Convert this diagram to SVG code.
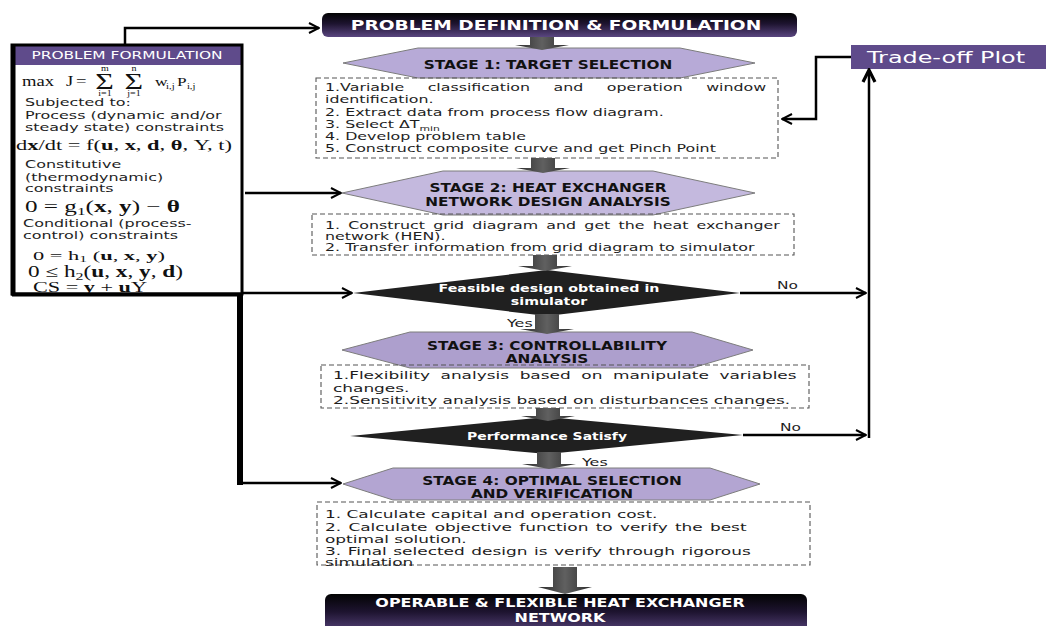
<svg xmlns="http://www.w3.org/2000/svg" width="1046" height="626" viewBox="0 0 1046 626">
<defs>
<style>
.t{font-family:"DejaVu Sans",Verdana,sans-serif;font-size:11px;fill:#1e1e1e}
.b{font-family:"DejaVu Sans",Verdana,sans-serif;font-weight:bold}
.w{fill:#fff}
.m{font-family:"Liberation Serif","DejaVu Serif",serif;fill:#111}
.stage{stroke:#7d7d7d;stroke-width:1}
.dash{fill:none;stroke:#555;stroke-width:1.1;stroke-dasharray:5 3}
.conn{fill:none;stroke:#000;stroke-width:2.5}
.blk{fill:url(#gArr)}
.dia{fill:#202020}
</style>
<linearGradient id="gDark" x1="0" y1="0" x2="0" y2="1"><stop offset="0" stop-color="#030303"/><stop offset="0.45" stop-color="#1e1430"/><stop offset="1" stop-color="#5a4680"/></linearGradient>
<linearGradient id="gArr" x1="0" y1="0" x2="1" y2="0"><stop offset="0" stop-color="#2b2b2b"/><stop offset="0.5" stop-color="#606060"/><stop offset="1" stop-color="#2b2b2b"/></linearGradient>
<marker id="ah" viewBox="0 0 12 12" refX="11" refY="6" markerWidth="12" markerHeight="12" markerUnits="userSpaceOnUse" orient="auto"><path d="M1,1 L11,6 L1,11" fill="none" stroke="#000" stroke-width="2"/></marker>
<marker id="ahT" viewBox="0 0 16 16" refX="14" refY="8" markerWidth="16" markerHeight="16" markerUnits="userSpaceOnUse" orient="auto"><path d="M2,2 L14,8 L2,14" fill="none" stroke="#000" stroke-width="3.2"/></marker>
</defs>
<rect width="1046" height="626" fill="#fff"/>

<g id="panel">
<rect x="12" y="45" width="230" height="249" fill="#fff"/>
<rect x="12" y="45" width="231" height="20" fill="#5f4b8b"/>
<text class="t w" font-size="11.5" transform="translate(127,59) scale(1.4,1)" text-anchor="middle">PROBLEM FORMULATION</text>
<g class="m" transform="translate(22,0) scale(1.33,1)">
<text font-size="14"><tspan x="0" y="86">max</tspan><tspan x="33" y="86">J</tspan><tspan x="40.6" y="86">=</tspan></text>
<text font-size="24"><tspan x="55" y="89">Σ</tspan><tspan x="77" y="89">Σ</tspan></text>
<text font-size="7.5" text-anchor="middle"><tspan x="62.4" y="71">m</tspan><tspan x="62.4" y="96">i=1</tspan><tspan x="84.2" y="71">n</tspan><tspan x="84.2" y="96">j=1</tspan></text>
<text font-size="13"><tspan x="100" y="86">w</tspan><tspan x="116.5" y="86">P</tspan></text>
<text font-size="8"><tspan x="108.3" y="89">i,j</tspan><tspan x="124" y="89">i,j</tspan></text>
</g>
<text class="t" transform="translate(25,106) scale(1.45,1)">Subjected to:</text>
<text class="t" transform="translate(25,119) scale(1.45,1)">Process (dynamic and/or</text>
<text class="t" transform="translate(25,131) scale(1.45,1)">steady state) constraints</text>
<text class="m" x="16" y="150" font-size="14" textLength="216" lengthAdjust="spacingAndGlyphs">d<tspan font-weight="bold">x</tspan>/dt = f(<tspan font-weight="bold">u</tspan>, <tspan font-weight="bold">x</tspan>, <tspan font-weight="bold">d</tspan>, <tspan font-weight="bold">θ</tspan>, Y, t)</text>
<text class="t" transform="translate(25,168) scale(1.45,1)">Constitutive</text>
<text class="t" transform="translate(25,181) scale(1.45,1)">(thermodynamic)</text>
<text class="t" transform="translate(25,192) scale(1.45,1)">constraints</text>
<text class="m" x="25" y="212" font-size="16" textLength="155" lengthAdjust="spacingAndGlyphs">0 = g<tspan font-size="11" dy="3">1</tspan><tspan dy="-3">(</tspan><tspan font-weight="bold">x</tspan>, <tspan font-weight="bold">y</tspan>) − <tspan font-weight="bold">θ</tspan></text>
<text class="t" transform="translate(23,227) scale(1.45,1)">Conditional (process-</text>
<text class="t" transform="translate(23,239) scale(1.45,1)">control) constraints</text>
<text class="m" x="33" y="260" font-size="13" textLength="132" lengthAdjust="spacingAndGlyphs">0 = h<tspan font-size="9" dy="2">1</tspan><tspan dy="-2"> (</tspan><tspan font-weight="bold">u</tspan>, <tspan font-weight="bold">x</tspan>, <tspan font-weight="bold">y</tspan>)</text>
<text class="m" x="28" y="277" font-size="16" textLength="155" lengthAdjust="spacingAndGlyphs">0 ≤ h<tspan font-size="11" dy="3">2</tspan><tspan dy="-3">(</tspan><tspan font-weight="bold">u</tspan>, <tspan font-weight="bold">x</tspan>, <tspan font-weight="bold">y</tspan>, <tspan font-weight="bold">d</tspan>)</text>
<text class="m" x="33" y="292" font-size="14" textLength="114" lengthAdjust="spacingAndGlyphs">CS = <tspan font-weight="bold">y</tspan> + <tspan font-weight="bold">u</tspan>Y</text>
<rect x="12" y="45" width="230" height="249" fill="none" stroke="#000" stroke-width="3"/>
<path d="M13.5,45 V296 M12,294.5 H243" stroke="#000" stroke-width="4" fill="none"/>
</g>

<g id="top-box">
<rect x="322" y="13" width="475" height="24" rx="6" fill="url(#gDark)"/>
<text class="b w" font-size="14" transform="translate(556,30) scale(1.33,1)" text-anchor="middle">PROBLEM DEFINITION &amp; FORMULATION</text>
</g>

<g id="stage1">
<polygon class="stage" fill="#b7aad7" points="343,63 418,48 680,48 755,63 680,78 418,78"/>
<text class="b" font-size="11.5" fill="#111" transform="translate(548,69) scale(1.33,1)" text-anchor="middle">STAGE 1: TARGET SELECTION</text>
</g>
<g id="box1">
<rect class="dash" x="316" y="78" width="462" height="80"/>
<text class="t" transform="translate(325,91) scale(1.44,1)" word-spacing="12.8">1.Variable classification and operation window</text>
<text class="t" transform="translate(325,103) scale(1.44,1)">identification.</text>
<text class="t" transform="translate(325,116) scale(1.44,1)">2. Extract data from process flow diagram.</text>
<text class="t" transform="translate(325,128) scale(1.44,1)">3. Select ΔT<tspan font-size="7.5" dy="2.5">min</tspan></text>
<text class="t" transform="translate(325,140) scale(1.44,1)">4. Develop problem table</text>
<text class="t" transform="translate(325,152) scale(1.44,1)">5. Construct composite curve and get Pinch Point</text>
</g>

<g id="stage2">
<polygon class="stage" fill="#c4b9de" points="342,193 443,171 653,171 755,193 653,215 443,215"/>
<text class="b" font-size="11.5" fill="#111" transform="translate(548,192) scale(1.33,1)" text-anchor="middle">STAGE 2: HEAT EXCHANGER</text>
<text class="b" font-size="11.5" fill="#111" transform="translate(548,206) scale(1.33,1)" text-anchor="middle">NETWORK DESIGN ANALYSIS</text>
</g>
<g id="box2">
<rect class="dash" x="312" y="214" width="482" height="41"/>
<text class="t" transform="translate(325,229) scale(1.44,1)" word-spacing="2.2">1. Construct grid diagram and get the heat exchanger</text>
<text class="t" transform="translate(325,240) scale(1.44,1)">network (HEN).</text>
<text class="t" transform="translate(325,251) scale(1.44,1)">2. Transfer information from grid diagram to simulator</text>
</g>

<g id="decision1">
<polygon class="dia" points="353,293 547,270 740,293 547,316"/>
<text class="b w" font-size="10.7" transform="translate(549,292) scale(1.33,1)" text-anchor="middle">Feasible design obtained in</text>
<text class="b w" font-size="10.7" transform="translate(549,305) scale(1.33,1)" text-anchor="middle">simulator</text>
</g>

<g id="stage3">
<polygon class="stage" fill="#ad9fcd" points="342,350 410,332 692,332 753,350 692,368 410,368"/>
<text class="b" font-size="11.5" fill="#111" transform="translate(547,350) scale(1.33,1)" text-anchor="middle">STAGE 3: CONTROLLABILITY</text>
<text class="b" font-size="11.5" fill="#111" transform="translate(547,363) scale(1.33,1)" text-anchor="middle">ANALYSIS</text>
</g>
<g id="box3">
<rect class="dash" x="321" y="365" width="488" height="43"/>
<text class="t" transform="translate(333,379) scale(1.54,1)" word-spacing="3.4">1.Flexibility analysis based on manipulate variables</text>
<text class="t" transform="translate(333,392) scale(1.54,1)">changes.</text>
<text class="t" transform="translate(333,404) scale(1.54,1)">2.Sensitivity analysis based on disturbances changes.</text>
</g>

<g id="decision2">
<polygon class="dia" points="350,436 547,417 743,435 547,454"/>
<text class="b w" font-size="10.5" transform="translate(547,440) scale(1.33,1)" text-anchor="middle">Performance Satisfy</text>
</g>

<g id="stage4">
<polygon class="stage" fill="#b3a5d2" points="343,484 393,468 710,468 760,484 710,500 393,500"/>
<text class="b" font-size="11.5" fill="#111" transform="translate(552,485) scale(1.33,1)" text-anchor="middle">STAGE 4: OPTIMAL SELECTION</text>
<text class="b" font-size="11.5" fill="#111" transform="translate(552,498) scale(1.33,1)" text-anchor="middle">AND VERIFICATION</text>
</g>
<g id="box4">
<rect class="dash" x="317" y="502" width="493" height="63"/>
<text class="t" transform="translate(325,518) scale(1.54,1)">1. Calculate capital and operation cost.</text>
<text class="t" transform="translate(325,531) scale(1.54,1)" word-spacing="1.23">2. Calculate objective function to verify the best</text>
<text class="t" transform="translate(325,543) scale(1.54,1)">optimal solution.</text>
<text class="t" transform="translate(325,555) scale(1.54,1)" word-spacing="0.78">3. Final selected design is verify through rigorous</text>
<text class="t" transform="translate(325,566) scale(1.54,1)">simulation</text>
</g>

<g id="bottom-box">
<rect x="325" y="594" width="482" height="40" rx="6" fill="url(#gDark)"/>
<text class="b w" font-size="12" transform="translate(560,607) scale(1.33,1)" text-anchor="middle">OPERABLE &amp; FLEXIBLE HEAT EXCHANGER</text>
<text class="b w" font-size="12" transform="translate(560,622) scale(1.33,1)" text-anchor="middle">NETWORK</text>
</g>

<g id="tradeoff">
<rect x="851" y="45" width="195" height="24" fill="#5f4b8b"/>
<text x="867" y="63" font-family="DejaVu Sans,Verdana,sans-serif" font-size="15" fill="#fff" textLength="158" lengthAdjust="spacingAndGlyphs">Trade-off Plot</text>
</g>

<g id="connectors">
<polygon class="blk" points="530,37 554,37 554,45 569,45 542,50 515,45 530,45"/>
<polygon class="blk" points="531,158 555,158 555,168 570,168 543,173 516,168 531,168"/>
<polygon class="blk" points="533,255 557,255 557,266 572,266 545,271 518,266 533,266"/>
<polygon class="blk" points="535,314 559,314 559,329 574,329 547,334 520,329 535,329"/>
<polygon class="blk" points="536,408 560,408 560,416 575,416 548,421 521,416 536,416"/>
<polygon class="blk" points="537,452 561,452 561,464 576,464 549,469 522,464 537,464"/>
<polygon class="blk" points="553,567 577,567 577,587 592,587 565,594 538,587 553,587"/>
<path class="conn" d="M125,45 V28 H319" marker-end="url(#ah)"/>
<path class="conn" d="M245,193 H341" marker-end="url(#ah)"/>
<path class="conn" d="M243,293 H352" marker-end="url(#ah)"/>
<path d="M240,294 V485" stroke="#000" stroke-width="6" fill="none"/>
<path class="conn" stroke-width="3" d="M240,483 H341" marker-end="url(#ah)"/>
<path class="conn" stroke-width="2" d="M740,293 H866" marker-end="url(#ah)"/>
<path class="conn" stroke-width="2" d="M743,435 H866" marker-end="url(#ah)"/>
<path class="conn" stroke-width="5" d="M869,438 V70" marker-end="url(#ahT)"/>
<path class="conn" stroke-width="3" d="M851,57 H816 V119 H782" marker-end="url(#ah)"/>
<text class="t" font-size="10" transform="translate(507,327) scale(1.45,1)">Yes</text>
<text class="t" font-size="10" transform="translate(582,466) scale(1.45,1)">Yes</text>
<text class="t" font-size="10.5" transform="translate(777,289) scale(1.4,1)">No</text>
<text class="t" font-size="10.5" transform="translate(780,431) scale(1.4,1)">No</text>
</g>
</svg>
